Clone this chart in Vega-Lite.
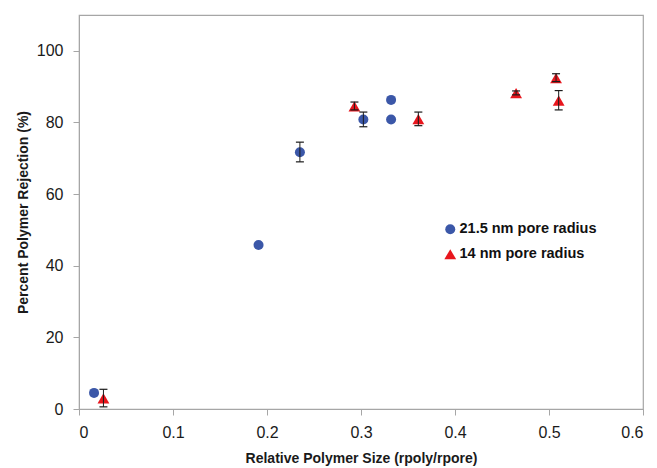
{
  "$schema": "https://vega.github.io/schema/vega-lite/v6.json",
  "autosize": "none",
  "width": 564,
  "height": 394,
  "padding": {"left": 79, "top": 15, "right": 14, "bottom": 59},
  "background": "white",
  "config": {
    "font": "Liberation Sans",
    "view": {"stroke": "#a6a6a6", "strokeWidth": 1.2},
    "axis": {
      "grid": false,
      "domainColor": "#a6a6a6",
      "tickColor": "#a6a6a6",
      "tickSize": 6,
      "labelFont": "Liberation Sans",
      "labelFontSize": 16,
      "labelColor": "#1a1a1a",
      "titleFont": "Liberation Sans",
      "titleFontSize": 14,
      "titleFontWeight": "bold",
      "titleColor": "#1a1a1a"
    }
  },
  "data": {
    "values": [
      {"series": "21.5 nm pore radius", "x": 0.016, "y": 4.5, "lo": null, "hi": null},
      {"series": "21.5 nm pore radius", "x": 0.191, "y": 45.8, "lo": null, "hi": null},
      {"series": "21.5 nm pore radius", "x": 0.235, "y": 71.7, "lo": 69.0, "hi": 74.5},
      {"series": "21.5 nm pore radius", "x": 0.3025, "y": 80.8, "lo": 78.8, "hi": 82.9},
      {"series": "21.5 nm pore radius", "x": 0.332, "y": 86.3, "lo": null, "hi": null},
      {"series": "21.5 nm pore radius", "x": 0.332, "y": 80.8, "lo": null, "hi": null},
      {"series": "14 nm pore radius", "x": 0.026, "y": 3.0, "lo": 0.6, "hi": 5.5},
      {"series": "14 nm pore radius", "x": 0.293, "y": 84.5, "lo": 83.5, "hi": 85.7},
      {"series": "14 nm pore radius", "x": 0.361, "y": 80.9, "lo": 79.1, "hi": 82.9},
      {"series": "14 nm pore radius", "x": 0.465, "y": 88.2, "lo": 87.7, "hi": 88.8},
      {"series": "14 nm pore radius", "x": 0.5075, "y": 92.4, "lo": 91.4, "hi": 93.6},
      {"series": "14 nm pore radius", "x": 0.5103, "y": 86.1, "lo": 83.5, "hi": 88.9}
    ]
  },
  "encoding": {
    "x": {
      "field": "x",
      "type": "quantitative",
      "scale": {"domain": [0, 0.6], "nice": false, "zero": false},
      "axis": {
        "values": [0, 0.1, 0.2, 0.3, 0.4, 0.5, 0.6],
        "format": ".1~f",
        "labelPadding": 9,
        "titlePadding": 11,
        "title": "Relative Polymer Size (rpoly/rpore)"
      }
    }
  },
  "layer": [
    {
      "mark": {"type": "point", "filled": true, "opacity": 1},
      "encoding": {
        "y": {
          "field": "y",
          "type": "quantitative",
          "scale": {"domain": [0, 110], "nice": false},
          "axis": {
            "values": [0, 20, 40, 60, 80, 100],
            "labelPadding": 10,
            "titlePadding": 6,
            "title": "Percent Polymer Rejection (%)"
          }
        },
        "color": {
          "field": "series",
          "type": "nominal",
          "scale": {"domain": ["21.5 nm pore radius", "14 nm pore radius"], "range": ["#3b57a8", "#e8161d"]},
          "legend": {
            "title": null,
            "orient": "none",
            "legendX": 364,
            "legendY": 207,
            "labelFont": "Liberation Sans",
            "labelFontSize": 14.5,
            "labelFontWeight": "bold",
            "labelColor": "#111111",
            "symbolOpacity": 1,
            "labelOffset": 2,
            "rowPadding": 10
          }
        },
        "shape": {
          "field": "series",
          "type": "nominal",
          "scale": {"domain": ["21.5 nm pore radius", "14 nm pore radius"], "range": ["circle", "triangle-up"]},
          "legend": null
        },
        "size": {
          "field": "series",
          "type": "nominal",
          "scale": {"domain": ["21.5 nm pore radius", "14 nm pore radius"], "range": [100, 140]},
          "legend": null
        }
      }
    },
    {
      "transform": [{"filter": "datum.lo != null"}],
      "mark": {"type": "rule", "color": "#1a1a1a", "strokeWidth": 1},
      "encoding": {
        "y": {"field": "lo", "type": "quantitative"},
        "y2": {"field": "hi"}
      }
    },
    {
      "transform": [{"filter": "datum.lo != null"}],
      "mark": {"type": "tick", "orient": "horizontal", "color": "#1a1a1a", "size": 8, "thickness": 1.2, "opacity": 1},
      "encoding": {
        "y": {"field": "lo", "type": "quantitative"}
      }
    },
    {
      "transform": [{"filter": "datum.hi != null"}],
      "mark": {"type": "tick", "orient": "horizontal", "color": "#1a1a1a", "size": 8, "thickness": 1.2, "opacity": 1},
      "encoding": {
        "y": {"field": "hi", "type": "quantitative"}
      }
    }
  ]
}
